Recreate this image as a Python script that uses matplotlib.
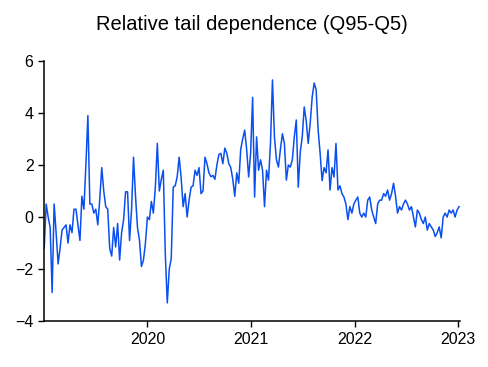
import numpy as np
import pandas as pd
import matplotlib
matplotlib.use("Agg")
import matplotlib.pyplot as plt
import matplotlib.dates as mdates

plt.rcParams['font.family'] = ['Liberation Sans', 'DejaVu Sans']

# weekly readings of the relative tail dependence series (Q95-Q5)
start_date = "2019-01-02"
values = [
    -1.2, 0.5, 0.0, -0.4, -2.9, 0.5, -0.6, -1.8, -1.2, -0.5,
    -0.4, -0.3, -1.0, -0.3, -0.6, 0.3, 0.3, -0.3, -0.9, 0.8,
    0.3, 2.0, 3.9, 0.5, 0.5, 0.15, 0.3, -0.3, 0.7, 1.9,
    1.0, 0.4, 0.3, -1.2, -1.5, -0.4, -1.15, -0.25, -1.65, -0.6,
    -0.1, 0.97, 0.97, -0.9, 0.27, 2.3, 0.8, -0.4, -0.9, -1.9,
    -1.65, -1.0, 0.0, -0.1, 0.6, 0.15, 1.15, 2.83, 1.0, 1.45,
    1.8, -1.4, -3.3, -2.0, -1.6, 1.15, 1.2, 1.55, 2.3, 1.5,
    0.4, 0.9, 0.0, 0.65, 1.15, 1.2, 1.8, 1.6, 1.9, 0.9,
    1.0, 2.3, 2.05, 1.7, 1.55, 1.6, 1.45, 2.0, 2.4, 2.45,
    2.05, 2.65, 2.45, 2.05, 1.9, 1.45, 0.8, 1.7, 1.3, 2.6,
    3.0, 3.34, 2.6, 1.54, 2.46, 4.6, 0.77, 3.08, 1.8, 2.2,
    1.8, 0.4, 1.8, 1.42, 2.83, 5.27, 3.08, 2.2, 1.92, 2.6,
    3.2, 2.83, 1.42, 2.0, 1.92, 2.2, 3.08, 3.73, 1.15, 2.5,
    3.08, 4.23, 3.7, 2.83, 3.6, 4.6, 5.15, 4.9, 3.35, 2.46,
    1.4, 1.9, 1.7, 2.58, 1.04, 1.9, 1.54, 2.83, 1.04, 1.2,
    0.9, 0.77, 0.5, -0.1, 0.4, 0.15, 0.5, 0.65, 0.77, 0.15,
    0.0, 0.15, 0.0, 0.65, 0.77, 0.27, 0.0, -0.25, 0.5, 0.65,
    0.65, 0.9, 0.8, 1.04, 0.65, 0.9, 1.3, 0.8, 0.15, 0.4,
    0.27, 0.5, 0.65, 0.5, 0.27, 0.4, 0.0, -0.38, 0.27, 0.15,
    -0.1, -0.25, 0.0, -0.5, -0.25, -0.38, -0.5, -0.75, -0.6, -0.38,
    -0.8, 0.0, 0.15, 0.0, 0.27, 0.15, 0.27, 0.0, 0.27, 0.4,
]
dates = pd.date_range(start_date, periods=len(values), freq="7D")

year_ticks = ["2020-01-01", "2021-01-01", "2022-01-01", "2023-01-01"]
year_labels = ["2020", "2021", "2022", "2023"]

fig = plt.figure(figsize=(4.88, 3.67), dpi=100)
ax = fig.add_axes([0.09, 0.125, 0.853, 0.709])

ax.plot(dates, values, color="#0a4ff0", linewidth=1.1)

ax.set_ylim(-4, 6)
ax.set_yticks([-4, -2, 0, 2, 4, 6])
ax.set_xlim(pd.Timestamp("2019-01-01"), pd.Timestamp("2023-01-08"))
ax.set_xticks(pd.to_datetime(year_ticks))
ax.set_xticklabels(year_labels)

for side in ["top", "right"]:
    ax.spines[side].set_visible(False)
for side in ["left", "bottom"]:
    ax.spines[side].set_linewidth(1.1)

ax.tick_params(axis="both", labelsize=11.5, length=4, width=1, direction="out")
ax.set_title("Relative tail dependence (Q95-Q5)", fontsize=14.5, pad=22)

fig.savefig("out.png", dpi=100)
